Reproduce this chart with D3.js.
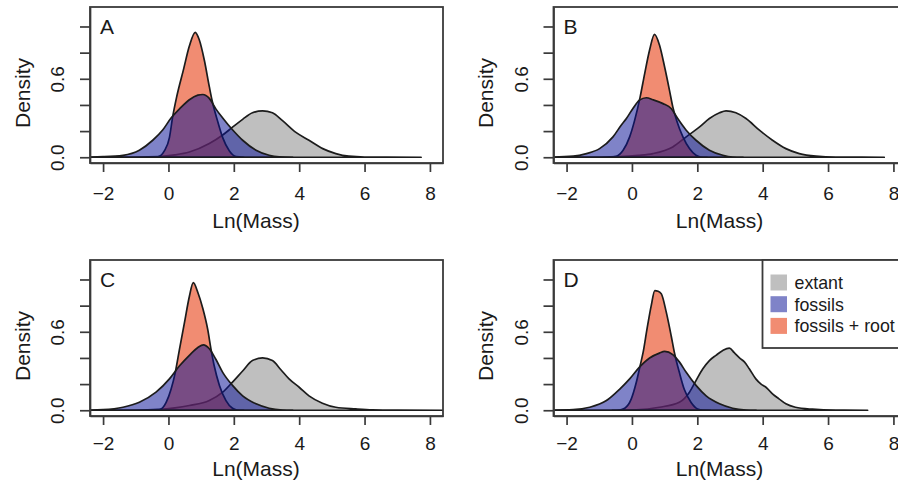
<!DOCTYPE html>
<html lang="en">

<head>
    <meta charset="UTF-8">
    <title>Ln(Mass) density</title>
    <style>
        body {
            margin: 0;
            padding: 0;
            background: white;
        }

        svg text {
            font-family: "Liberation Sans", Arial, Helvetica, sans-serif;
            fill: #1a1a1a;
        }
    </style>
</head>

<body>
    <svg id="chart"></svg>

    <script src="https://cdnjs.cloudflare.com/ajax/libs/d3/7.9.0/d3.min.js"></script>
    <script>
        // values: [ln(mass), density]
        const extantA = [[-2.6, 0], [-1.0, 0.001], [-0.3, 0.005], [0.2, 0.018], [0.64, 0.04], [1.25, 0.105], [1.66, 0.17], [1.96, 0.23], [2.27, 0.29], [2.57, 0.34], [2.88, 0.355], [3.18, 0.34], [3.49, 0.28], [3.9, 0.19], [4.3, 0.13], [4.72, 0.066], [5.12, 0.028], [5.52, 0.008], [6.0, 0.002], [7.73, 0]];
        const fossilsA = [[-2.6, 0.001], [-2.0, 0.004], [-1.39, 0.015], [-0.89, 0.054], [-0.48, 0.13], [-0.17, 0.21], [0.08, 0.30], [0.34, 0.37], [0.64, 0.44], [0.9, 0.475], [1.05, 0.48], [1.25, 0.45], [1.45, 0.37], [1.66, 0.30], [1.96, 0.21], [2.27, 0.13], [2.68, 0.054], [3.08, 0.015], [3.39, 0.003], [3.8, 0]];
        const rootA = [[-0.6, 0], [-0.33, 0.003], [-0.12, 0.05], [0.03, 0.15], [0.13, 0.31], [0.25, 0.46], [0.46, 0.67], [0.64, 0.85], [0.82, 0.955], [0.94, 0.90], [1.1, 0.74], [1.25, 0.54], [1.33, 0.44], [1.5, 0.28], [1.66, 0.15], [1.86, 0.05], [2.07, 0.005], [2.3, 0]];

        const extantB = [[-2.6, 0], [-1.0, 0.001], [-0.38, 0.004], [0.2, 0.014], [0.64, 0.028], [1.25, 0.079], [1.66, 0.156], [2.07, 0.232], [2.37, 0.296], [2.68, 0.34], [2.88, 0.355], [3.18, 0.34], [3.49, 0.296], [3.9, 0.207], [4.3, 0.13], [4.71, 0.066], [5.12, 0.028], [5.63, 0.008], [6.24, 0.001], [7.72, 0]];
        const fossilsB = [[-2.6, 0.001], [-1.8, 0.008], [-1.39, 0.028], [-0.99, 0.066], [-0.58, 0.156], [-0.33, 0.245], [-0.17, 0.296], [0.03, 0.373], [0.23, 0.437], [0.44, 0.455], [0.64, 0.44], [0.95, 0.41], [1.2, 0.373], [1.4, 0.296], [1.66, 0.207], [1.96, 0.13], [2.37, 0.054], [2.78, 0.015], [3.08, 0.002], [3.4, 0]];
        const rootB = [[-0.7, 0], [-0.48, 0.008], [-0.27, 0.054], [-0.07, 0.156], [0.08, 0.28], [0.25, 0.46], [0.39, 0.64], [0.54, 0.82], [0.69, 0.94], [0.84, 0.86], [1.0, 0.69], [1.15, 0.51], [1.25, 0.385], [1.37, 0.28], [1.56, 0.156], [1.76, 0.066], [1.96, 0.015], [2.1, 0.002], [2.3, 0]];

        const extantC = [[-2.6, 0], [-1.0, 0.001], [-0.3, 0.006], [0.2, 0.018], [0.64, 0.036], [1.25, 0.074], [1.66, 0.138], [1.96, 0.215], [2.27, 0.30], [2.57, 0.38], [2.88, 0.40], [3.18, 0.38], [3.44, 0.31], [3.69, 0.24], [4.0, 0.176], [4.3, 0.11], [4.71, 0.054], [5.12, 0.023], [5.73, 0.01], [6.24, 0.003], [7.0, 0.001], [8.6, 0]];
        const fossilsC = [[-2.6, 0.001], [-2.0, 0.005], [-1.39, 0.023], [-0.89, 0.061], [-0.38, 0.138], [0.03, 0.24], [0.34, 0.34], [0.64, 0.42], [0.9, 0.48], [1.07, 0.50], [1.25, 0.47], [1.45, 0.39], [1.66, 0.29], [1.96, 0.19], [2.27, 0.11], [2.68, 0.049], [3.08, 0.015], [3.49, 0.002], [3.8, 0]];
        const rootC = [[-0.5, 0], [-0.27, 0.004], [-0.07, 0.06], [0.08, 0.16], [0.21, 0.29], [0.34, 0.47], [0.49, 0.67], [0.64, 0.87], [0.76, 0.976], [0.9, 0.90], [1.05, 0.78], [1.2, 0.62], [1.3, 0.47], [1.4, 0.34], [1.56, 0.19], [1.76, 0.074], [1.96, 0.015], [2.1, 0.002], [2.3, 0]];

        const extantD = [[-2.6, 0], [-0.5, 0], [0.13, 0.003], [0.84, 0.023], [1.45, 0.061], [1.76, 0.138], [1.96, 0.227], [2.17, 0.317], [2.37, 0.38], [2.57, 0.42], [2.78, 0.457], [2.98, 0.475], [3.13, 0.44], [3.29, 0.40], [3.44, 0.37], [3.59, 0.317], [3.79, 0.24], [3.95, 0.20], [4.1, 0.176], [4.3, 0.125], [4.5, 0.087], [4.71, 0.049], [5.0, 0.023], [5.52, 0.008], [6.24, 0.001], [7.21, 0]];
        const fossilsD = [[-2.6, 0.001], [-1.8, 0.005], [-1.29, 0.023], [-0.78, 0.074], [-0.38, 0.16], [-0.07, 0.24], [0.23, 0.33], [0.54, 0.40], [0.84, 0.437], [1.0, 0.45], [1.25, 0.425], [1.45, 0.37], [1.66, 0.29], [1.96, 0.19], [2.27, 0.11], [2.68, 0.049], [3.08, 0.015], [3.49, 0.002], [3.8, 0]];
        const rootD = [[-0.6, 0], [-0.38, 0.002], [-0.22, 0.015], [-0.02, 0.087], [0.13, 0.21], [0.25, 0.34], [0.34, 0.44], [0.46, 0.62], [0.59, 0.80], [0.7, 0.915], [0.8, 0.91], [0.9, 0.89], [1.05, 0.75], [1.2, 0.57], [1.3, 0.44], [1.45, 0.29], [1.6, 0.16], [1.81, 0.06], [2.01, 0.01], [2.17, 0.001], [2.4, 0]];

        const panelLabels = ['A', 'B', 'C', 'D'];
        const extantCurves = [extantA, extantB, extantC, extantD];
        const fossilCurves = [fossilsA, fossilsB, fossilsC, fossilsD];
        const rootCurves = [rootA, rootB, rootC, rootD];

        const legendLabels = ['extant', 'fossils', 'fossils + root'];
        const xTicks = [-2, 0, 2, 4, 6, 8];
        const yTicks = [0, 0.2, 0.4, 0.6, 0.8, 1.0];
        const yLabelled = [0, 0.6];

        const width = 898;
        const height = 487;

        // colours: semi-transparent fills like R's polygon(col = rgb(..., alpha))
        const fills = {
            extant: 'rgba(128, 128, 128, 0.5)',
            fossils: 'rgba(10, 18, 150, 0.52)',
            root: 'rgba(232, 64, 20, 0.6)'
        };
        const legendFills = [fills.extant, fills.fossils, fills.root];

        const svg = d3.select('#chart')
            .attr('width', width)
            .attr('height', height);

        // plot box inside each panel
        const box = { left: 90, right: 443, top: 7, bottom: 163 };
        const colOffset = 463.5;
        const rowOffset = 253;
        // bottom row text sits a little tighter in the source image
        const tickLabelY = [37, 34];
        const xLabelY = [228, 223];

        const x = d3.scaleLinear().domain([-2.4, 8.4]).range([box.left, box.right]);
        const y = d3.scaleLinear().domain([-0.044, 1.149]).range([box.bottom, box.top]);

        const area = d3.area()
            .x(d => x(d[0]))
            .y0(y(0))
            .y1(d => y(d[1]))
            .curve(d3.curveMonotoneX);

        const fmt = d3.format('.1f');
        const axisColor = '#3a3a3a';

        panelLabels.forEach((label, i) => {
            const col = i % 2;
            const row = Math.floor(i / 2);

            const g = svg.append('g')
                .attr('transform', `translate(${col * colOffset},${row * rowOffset})`);

            g.append('clipPath')
                .attr('id', 'clip' + label)
                .append('rect')
                .attr('x', box.left)
                .attr('y', box.top)
                .attr('width', box.right - box.left)
                .attr('height', box.bottom - box.top);

            const plot = g.append('g').attr('clip-path', `url(#clip${label})`);

            // drawing order: extant, fossils + root, fossils
            const layers = [
                [extantCurves[i], fills.extant],
                [rootCurves[i], fills.root],
                [fossilCurves[i], fills.fossils]
            ];

            plot.selectAll('path')
                .data(layers)
                .enter().append('path')
                .attr('d', d => area(d[0]) + 'Z')
                .attr('fill', d => d[1])
                .attr('stroke', '#1c1c1c')
                .attr('stroke-width', 1.7)
                .attr('stroke-linejoin', 'round');

            // x axis
            const xAxis = g.append('g')
                .attr('transform', `translate(0,${box.bottom})`)
                .call(d3.axisBottom(x).tickValues(xTicks).tickSize(9).tickSizeOuter(0)
                    .tickFormat(d => d < 0 ? '\u2212' + Math.abs(d) : d));
            xAxis.select('.domain').attr('stroke', axisColor).attr('stroke-width', 1.7);
            xAxis.selectAll('line').attr('stroke', axisColor).attr('stroke-width', 1.7);
            xAxis.selectAll('text')
                .attr('y', tickLabelY[row])
                .attr('dy', 0)
                .style('font-size', '19px');

            // y axis, only some ticks carry a label
            const yAxis = g.append('g')
                .attr('transform', `translate(${box.left},0)`)
                .call(d3.axisLeft(y).tickValues(yTicks).tickSize(10).tickSizeOuter(0)
                    .tickFormat(d => yLabelled.includes(d) ? fmt(d) : ''));
            yAxis.select('.domain').attr('stroke', axisColor).attr('stroke-width', 1.7);
            yAxis.selectAll('line').attr('stroke', axisColor).attr('stroke-width', 1.7);
            yAxis.selectAll('text')
                .attr('transform', 'rotate(-90)')
                .attr('x', 0)
                .attr('y', -26)
                .attr('dy', 0)
                .attr('text-anchor', 'middle')
                .style('font-size', '19px');

            // frame
            g.append('rect')
                .attr('x', box.left)
                .attr('y', box.top)
                .attr('width', box.right - box.left)
                .attr('height', box.bottom - box.top)
                .attr('fill', 'none')
                .attr('stroke', axisColor)
                .attr('stroke-width', 1.8);

            g.append('text')
                .attr('x', box.left + 10)
                .attr('y', box.top + 27)
                .style('font-size', '21px')
                .text(label);

            g.append('text')
                .attr('transform', `translate(29.5,93) rotate(-90)`)
                .attr('text-anchor', 'middle')
                .style('font-size', '21px')
                .text('Density');

            g.append('text')
                .attr('x', 256)
                .attr('y', xLabelY[row])
                .attr('text-anchor', 'middle')
                .style('font-size', '21px')
                .text('Ln(Mass)');

            if (label === 'D') {
                const legend = g.append('g');
                legend.append('rect')
                    .attr('x', 299)
                    .attr('y', box.top)
                    .attr('width', 160)
                    .attr('height', 88)
                    .attr('fill', 'white')
                    .attr('stroke', axisColor)
                    .attr('stroke-width', 1.8);

                const item = legend.selectAll('.legend-item')
                    .data(legendLabels)
                    .enter().append('g')
                    .attr('class', 'legend-item')
                    .attr('transform', (d, j) => `translate(307,${29.5 + j * 21.7})`);

                item.append('rect')
                    .attr('x', 0)
                    .attr('y', -8)
                    .attr('width', 16.5)
                    .attr('height', 16)
                    .attr('fill', (d, j) => legendFills[j]);

                item.append('text')
                    .attr('x', 24)
                    .attr('y', 6.5)
                    .style('font-size', '17.8px')
                    .text(d => d);
            }
        });
    </script>
</body>

</html>
